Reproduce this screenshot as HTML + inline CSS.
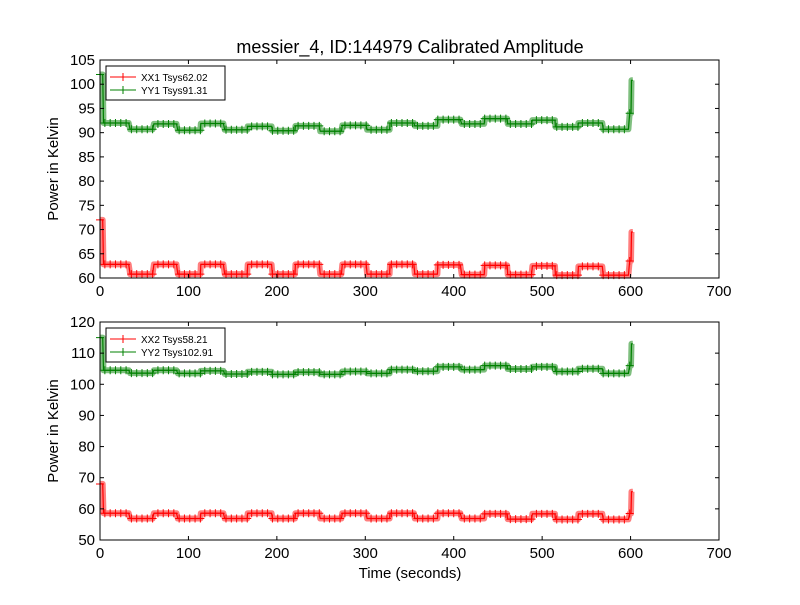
<!DOCTYPE html>
<html><head><meta charset="utf-8"><style>
body{margin:0;background:#fff;}
svg text{font-family:"Liberation Sans","DejaVu Sans",sans-serif;}
</style></head><body>
<svg id="chart" width="800" height="600">
<rect width="800" height="600" fill="#fff"/>
<text x="410" y="53" font-size="18" text-anchor="middle">messier_4, ID:144979 Calibrated Amplitude</text>
<g id="top"></g>
<g id="bot"></g>
<text x="410" y="578" font-size="15" text-anchor="middle">Time (seconds)</text>
</svg>
<script>
const segTimes=[0,4,34,61,88,114,141,167,195,221,249,274,302,328,356,382,409,435,461,489,515,541,569,599,601,604];
const xx1=[72,62.8,60.8,62.8,60.8,62.8,60.8,62.8,60.8,62.8,60.8,62.8,60.8,62.8,60.8,62.7,60.7,62.6,60.7,62.5,60.6,62.4,60.6,63.5,69.5];
const yy1=[102,92.0,90.7,91.8,90.5,91.9,90.6,91.3,90.4,91.4,90.3,91.5,90.6,92.0,91.4,92.7,91.8,92.9,91.8,92.6,91.2,92.0,90.7,94,100.8];
const xx2=[68,58.6,56.9,58.6,56.9,58.6,56.9,58.6,56.9,58.6,56.9,58.6,56.9,58.6,56.9,58.6,56.9,58.4,56.7,58.4,56.6,58.4,56.6,58.5,65.5];
const yy2=[115,104.5,103.6,104.5,103.5,104.3,103.3,104.0,103.2,103.9,103.2,104.1,103.5,104.7,104.2,105.6,104.7,106.0,104.9,105.6,104.1,105.0,103.5,106,113];
const xTicks=[0,100,200,300,400,500,600,700];
const yTicksTop=[60,65,70,75,80,85,90,95,100,105];
const yTicksBot=[50,60,70,80,90,100,110,120];
const NS='http://www.w3.org/2000/svg';
function mk(tag,attrs,parent){const e=document.createElementNS(NS,tag);for(const k in attrs)e.setAttribute(k,attrs[k]);parent.appendChild(e);return e;}
function panel(g,top,bottom,ymin,ymax,yTicks,s1,s2,l1,l2){
  const L=100,R=719;
  const xs=t=>L+(t-0)/700*(R-L);
  const ys=v=>bottom-(v-ymin)/(ymax-ymin)*(bottom-top);
  [[s1,'#ff0000',l1],[s2,'#008000',l2]].forEach(([vals,col,name])=>{
    let d='';let pts=[];
    for(let i=0;i<vals.length;i++){
      const t0=segTimes[i],t1=segTimes[i+1];
      for(let t=t0;t<t1;t+=1.5){pts.push([t,vals[i]]);}
    }
    pts.forEach((p,i)=>{d+=(i?'L':'M')+xs(p[0]).toFixed(1)+' '+ys(p[1]).toFixed(1);});
    const band=mk('path',{d:d,fill:'none',stroke:col,'stroke-width':6,'stroke-opacity':0.5,'stroke-linejoin':'round'},g);
    
    
    const line=mk('path',{d:d,fill:'none',stroke:col,'stroke-width':1.2},g);
    
    
    let md='';
    pts.forEach((p,i)=>{if(i%4)return;const x=xs(p[0]),y=ys(p[1]);md+=`M${x-4} ${y}h8M${x} ${y-4}v8`;});
    const mks=mk('path',{d:md,stroke:col,fill:'none','stroke-width':1},g);
    
    
  });
  const frame=mk('rect',{x:L,y:top,width:R-L,height:bottom-top,fill:'none',stroke:'#000','stroke-width':1},g);
  
  
  xTicks.forEach(t=>{
    const x=xs(t);
    mk('line',{x1:x,x2:x,y1:bottom,y2:bottom-4,stroke:'#000'},g);
    mk('line',{x1:x,x2:x,y1:top,y2:top+4,stroke:'#000'},g);
    const tx=mk('text',{x:x,y:bottom+18,'font-size':15,'text-anchor':'middle'},g);tx.textContent=t;
    
    
  });
  yTicks.forEach(v=>{
    const y=ys(v);
    mk('line',{x1:L,x2:L+4,y1:y,y2:y,stroke:'#000'},g);
    mk('line',{x1:R,x2:R-4,y1:y,y2:y,stroke:'#000'},g);
    const tx=mk('text',{x:L-5,y:y+5,'font-size':15,'text-anchor':'end'},g);tx.textContent=v;
    
    
  });
  const yl=mk('text',{x:0,y:0,'font-size':15,'text-anchor':'middle',transform:`translate(58,${(top+bottom)/2}) rotate(-90)`},g);
  yl.textContent='Power in Kelvin';
  
  
  const lg=mk('g',{},g);
  
  
  mk('rect',{x:106,y:top+6,width:119,height:34,fill:'#fff',stroke:'#000'},lg);
  [[l1,'#ff0000'],[l2,'#008000']].forEach(([n,c],i)=>{
    const y=top+17+i*13;
    mk('line',{x1:110,x2:136,y1:y,y2:y,stroke:c},lg);
    mk('line',{x1:123,x2:123,y1:y-4,y2:y+4,stroke:c},lg);
    const tx=mk('text',{x:141,y:y+4,'font-size':10},lg);tx.textContent=n;
    
    
  });
}
panel(document.getElementById('top'),60,278,60,105,yTicksTop,xx1,yy1,'XX1 Tsys62.02','YY1 Tsys91.31');
panel(document.getElementById('bot'),322,540,50,120,yTicksBot,xx2,yy2,'XX2 Tsys58.21','YY2 Tsys102.91');
</script>
</body></html>
